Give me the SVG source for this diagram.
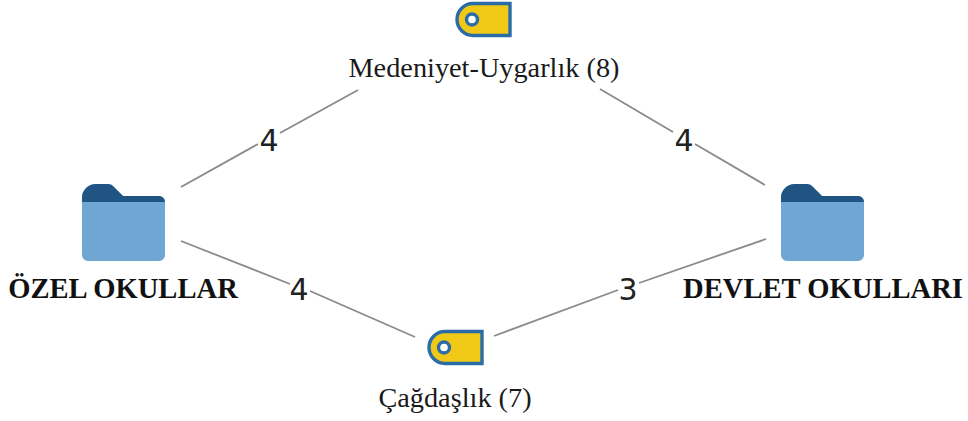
<svg xmlns="http://www.w3.org/2000/svg" width="968" height="421" viewBox="0 0 968 421">
<defs>
<g id="folder">
<path d="M0 10V71a6 6 0 0 0 6 6H77a6 6 0 0 0 6-6V18a6 6 0 0 0-6-6H41L32 3a8 8 0 0 0-6-3H14A14 14 0 0 0 0 14Z" fill="#6fa6d4"/>
<path d="M0 18V14A14 14 0 0 1 14 0H26a8 8 0 0 1 6 3L41 12H77a6 6 0 0 1 6 6Z" fill="#1f5483"/>
</g>
<g id="tag">
<path d="M54 1.500V33.500H17A16 16 0 0 1 17 1.500Z" fill="#f0c816" stroke="#2a6ca8" stroke-width="3.400"/>
<circle cx="16" cy="17.500" r="5.500" fill="#fff" stroke="#2a6ca8" stroke-width="3.400"/>
</g>
</defs>
<style>
.e{stroke:#8a8a8a;stroke-width:1.800;fill:none}
.n{font-family:"Liberation Serif",serif;font-size:28.300px;fill:#1a1a1a;text-anchor:middle}
.b{font-weight:700;fill:#111;font-size:28.600px}
.w{font-family:"DejaVu Sans",sans-serif;font-size:30px;fill:#222;text-anchor:middle}
</style>
<g id="connectors">
<path class="e" d="M181 187 L258 144M280 133 L358 90"/>
<path class="e" d="M765 185 L695 144M673 132 L600 89"/>
<path class="e" d="M181 241 L290 284M310 291 L415 337"/>
<path class="e" d="M766 239 L639 283M618 290 L494 336"/>
<text class="w" x="269" y="151">4</text>
<text class="w" x="684" y="151">4</text>
<text class="w" x="299" y="300">4</text>
<text class="w" x="628" y="300">3</text>
</g>
<g id="node-medeniyet"><use href="#tag" x="456" y="2"/><text class="n" x="484" y="77">Medeniyet-Uygarlık (8)</text></g>
<g id="node-cagdaslik"><use href="#tag" x="428" y="330"/><text class="n" x="455" y="407">Çağdaşlık (7)</text></g>
<g id="node-ozel"><use href="#folder" x="82" y="184"/><text class="n b" x="123" y="298">ÖZEL OKULLAR</text></g>
<g id="node-devlet"><use href="#folder" x="781" y="184"/><text class="n b" x="823" y="298">DEVLET OKULLARI</text></g>
</svg>
